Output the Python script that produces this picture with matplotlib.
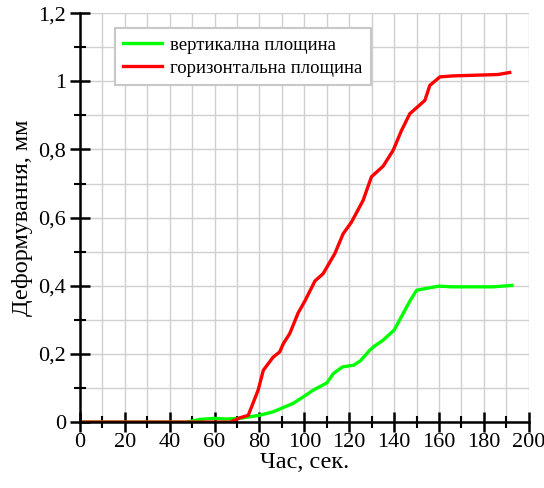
import matplotlib
matplotlib.use("Agg")
import matplotlib.pyplot as plt
from matplotlib.ticker import MultipleLocator, FuncFormatter

plt.rcParams["font.family"] = ["Liberation Serif", "DejaVu Serif"]

# Вертикальна площина
t_vert = [0, 47.5, 53.5, 60, 65, 71, 80, 86, 95, 99.5, 104, 110, 113, 117, 122,
          125, 129, 131, 135, 140, 147, 150, 154, 160, 166, 175, 184, 192.5]
d_vert = [0, 0, 0.008, 0.011, 0.009, 0.011, 0.02, 0.03, 0.055, 0.074, 0.094, 0.115,
          0.143, 0.162, 0.167, 0.18, 0.21, 0.222, 0.24, 0.27, 0.355, 0.387, 0.392,
          0.399, 0.397, 0.397, 0.397, 0.401]

# Горизонтальна площина
t_hor = [0, 67, 71, 75, 79.4, 81.7, 86, 89, 90.6, 93.5, 97.2, 100.2, 104.7, 108.4,
         113.6, 117.3, 121, 126.2, 129.9, 135.1, 139.6, 143.3, 147, 153.7, 155.9,
         160.4, 166.3, 186.3, 191.5]
d_hor = [0, 0, 0.012, 0.02, 0.094, 0.152, 0.19, 0.206, 0.23, 0.26, 0.32, 0.355,
         0.414, 0.436, 0.495, 0.553, 0.587, 0.651, 0.72, 0.751, 0.798, 0.856, 0.905,
         0.944, 0.988, 1.013, 1.016, 1.02, 1.026]

fig = plt.figure(figsize=(5.44, 4.88), dpi=100)
ax = fig.add_axes([0.147, 0.135, 0.825, 0.838])

ax.plot(t_vert, d_vert, color="#00ff00", lw=2.4, label="вертикална площина")
ax.plot(t_hor, d_hor, color="#ff0000", lw=2.4, label="горизонтальна площина")

ax.set_xlim(0, 200)
ax.set_ylim(0, 1.2)
ax.xaxis.set_major_locator(MultipleLocator(20))
ax.xaxis.set_minor_locator(MultipleLocator(10))
ax.yaxis.set_major_locator(MultipleLocator(0.2))
ax.yaxis.set_minor_locator(MultipleLocator(0.1))
ax.yaxis.set_major_formatter(FuncFormatter(lambda v, p: f"{v:.1f}".rstrip("0").rstrip(".").replace(".", ",")))

ax.grid(True, which="both", color="#d0d0d0", lw=1.0)
ax.set_axisbelow(True)
for s in ["top", "right"]:
    ax.spines[s].set_visible(False)
for s in ["left", "bottom"]:
    ax.spines[s].set_linewidth(1.8)
ax.tick_params(which="major", direction="inout", length=14, width=1.8, labelsize=16)
ax.tick_params(which="minor", direction="inout", length=8, width=1.5)
ax.tick_params(axis="x", which="major", pad=1)
ax.tick_params(axis="y", which="major", pad=3)

ax.set_xlabel("Час, сек.", fontsize=17.5, labelpad=0)
ax.set_ylabel("Деформування, мм", fontsize=17.5, labelpad=4)

leg = ax.legend(loc="upper left", bbox_to_anchor=(0.078, 0.963), borderaxespad=0,
                fontsize=13.5, fancybox=False, edgecolor="#c8c8c8", framealpha=1,
                handlelength=2.05, handletextpad=0.45, borderpad=0.45, labelspacing=0.3)
leg.get_frame().set_linewidth(1.5)

fig.savefig("out.png", dpi=100)
